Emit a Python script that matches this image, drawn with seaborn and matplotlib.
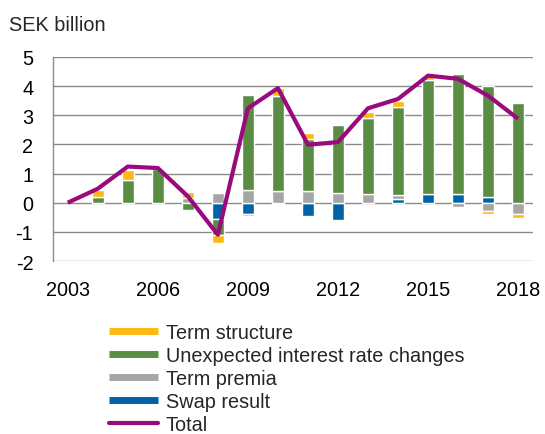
import numpy as np
import pandas as pd
import matplotlib
matplotlib.use("Agg")
import matplotlib.pyplot as plt
from matplotlib.lines import Line2D
import seaborn as sns

# Yearly result components, SEK billion
years = [str(y) for y in range(2003, 2019)]
swap_result = [0, 0, 0, 0, 0, -0.55, -0.38, -0.05, -0.45, -0.60, 0, 0.12, 0.30, 0.30, 0.20, 0]
term_premia = [0, 0, 0, 0, 0.15, 0.33, 0.42, 0.40, 0.40, 0.35, 0.30, 0.15, 0, -0.15, -0.30, -0.38]
unexpected = [0, 0.18, 0.78, 1.17, -0.25, -0.57, 3.28, 3.25, 1.77, 2.30, 2.60, 3.00, 3.90, 4.12, 3.82, 3.42]
term_structure = [0, 0.25, 0.35, 0, 0.22, -0.27, -0.06, 0.30, 0.23, 0, 0.22, 0.22, 0.15, 0, -0.10, -0.16]
total = [0, 0.48, 1.24, 1.19, 0.22, -1.10, 3.24, 3.93, 1.99, 2.08, 3.24, 3.56, 4.36, 4.25, 3.67, 2.88]

tick_years = ["2003", "2006", "2009", "2012", "2015", "2018"]
y_ticks = [-2, -1, 0, 1, 2, 3, 4, 5]

# Stacking order from the zero line outwards
series = [
    ("Swap result", swap_result, "#0063A6"),
    ("Term premia", term_premia, "#A6A6A6"),
    ("Unexpected interest rate changes", unexpected, "#5B8C44"),
    ("Term structure", term_structure, "#FDB813"),
]
total_color = "#9B0A7D"

sns.set_theme(style="white")
plt.rcParams["font.family"] = ["Liberation Sans", "DejaVu Sans"]
plt.rcParams["axes.unicode_minus"] = False

fs = 14.3
fig = plt.figure(figsize=(5.45, 4.35), dpi=100)
ax = fig.add_axes([0.0967, 0.3977, 0.8816, 0.4690])

pos_base = np.zeros(len(years))
neg_base = np.zeros(len(years))
for name, vals, color in series:
    vals = np.asarray(vals, dtype=float)
    for sign in (1, -1):
        mask = vals > 0 if sign > 0 else vals < 0
        if not mask.any():
            continue
        base = pos_base if sign > 0 else neg_base
        df = pd.DataFrame({"year": np.array(years)[mask], "value": vals[mask]})
        sns.barplot(data=df, x="year", y="value", order=years, color=color,
                    saturation=1, width=0.4, errorbar=None,
                    bottom=base[mask], edgecolor="white", linewidth=1.0,
                    ax=ax, zorder=2)
        base[mask] += vals[mask]

sns.lineplot(x=np.arange(len(years)), y=total, color=total_color, linewidth=3,
             ax=ax, zorder=3, solid_joinstyle="round", solid_capstyle="butt")

ax.set_xlim(-0.5, len(years) - 0.5)
ax.set_ylim(-2, 5)
ax.set_yticks(y_ticks)
ax.set_yticklabels([str(v) for v in y_ticks], fontsize=fs, color="black")
ax.set_xticks([years.index(t) for t in tick_years])
ax.set_xticklabels(tick_years, fontsize=fs, color="black")
ax.set_xlabel("")
ax.set_ylabel("")
ax.tick_params(axis="both", length=0)
ax.tick_params(axis="y", pad=14)
ax.tick_params(axis="x", pad=14)

ax.set_axisbelow(True)
ax.yaxis.grid(True, color="#8a8a8a", linewidth=1.0)
ax.xaxis.grid(False)
for side in ("top", "right", "bottom"):
    ax.spines[side].set_visible(False)
ax.spines["left"].set_color("#8a8a8a")
ax.spines["left"].set_linewidth(1.0)

fig.text(0.017, 0.942, "SEK billion", fontsize=fs, ha="left", va="center")

handles = [
    Line2D([], [], color="#FDB813", linewidth=5, solid_capstyle="butt"),
    Line2D([], [], color="#5B8C44", linewidth=5, solid_capstyle="butt"),
    Line2D([], [], color="#A6A6A6", linewidth=5, solid_capstyle="butt"),
    Line2D([], [], color="#0063A6", linewidth=5, solid_capstyle="butt"),
    Line2D([], [], color=total_color, linewidth=3),
]
labels = ["Term structure", "Unexpected interest rate changes", "Term premia",
          "Swap result", "Total"]
fig.legend(handles, labels, loc="upper left", bbox_to_anchor=(0.2, 0.256),
           frameon=False, borderpad=0, borderaxespad=0, fontsize=fs,
           handlelength=2.46, handletextpad=0.4, labelspacing=0.2)

fig.savefig("out.png", dpi=100)
